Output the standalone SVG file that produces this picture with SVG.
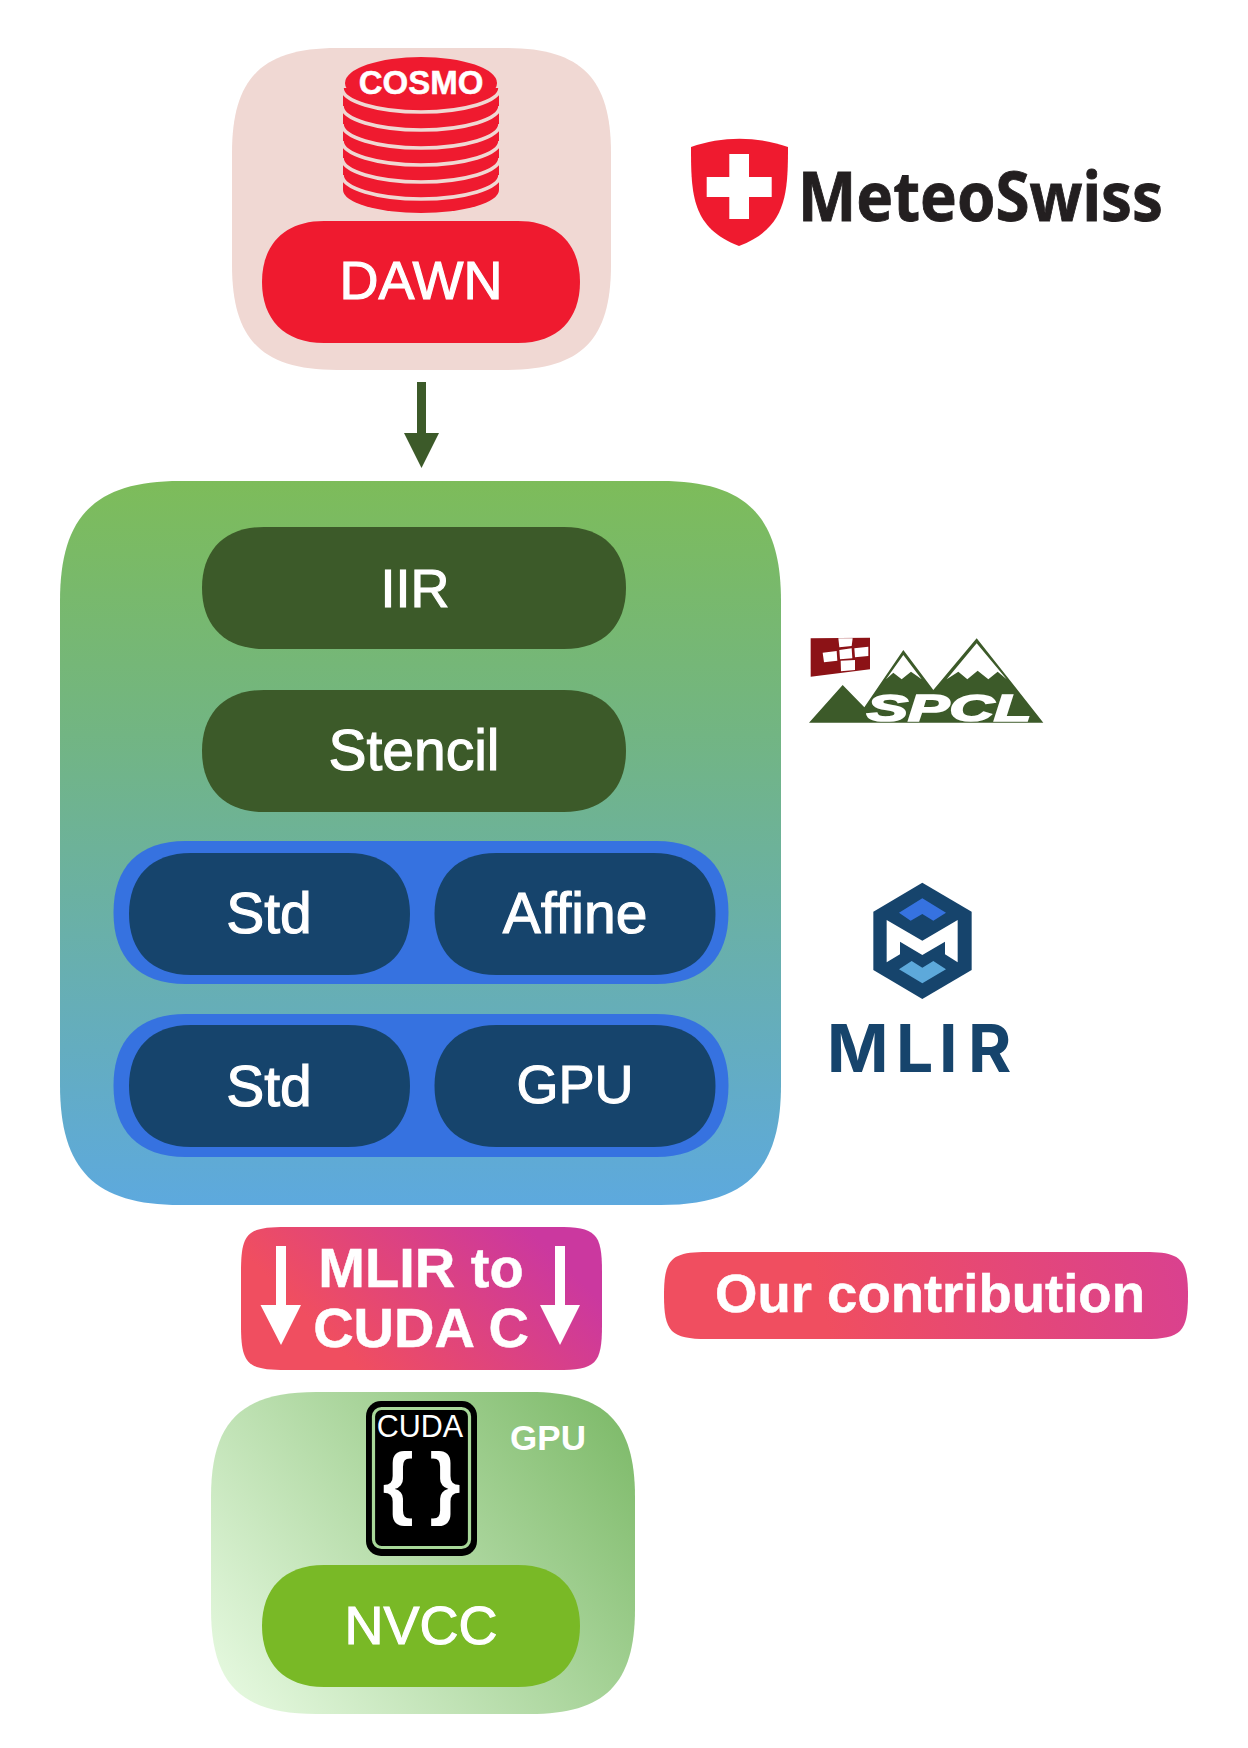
<svg xmlns="http://www.w3.org/2000/svg" width="1248" height="1748" viewBox="0 0 1248 1748">
<style>
text{font-family:"Liberation Sans",Arial,sans-serif;fill:#fff;text-anchor:middle}
.l{font-size:54px;stroke:#fff;stroke-width:1.1}
.m{font-size:57px;stroke:#fff;stroke-width:1.1}
.b{font-size:56px;font-weight:700;stroke:#fff;stroke-width:.5}
.red{fill:#ef1a2f}
.dg{fill:#3c5a29}
.navy{fill:#16446c}
.blue{fill:#3672e0}
.wa{fill:#fff}
.band{fill:none;stroke:#f0d8d3;stroke-width:3.6}
</style>
<defs>
<linearGradient id="gBig" x1="0" y1="0" x2="0" y2="1"><stop offset="0" stop-color="#7dbc5a"/><stop offset=".35" stop-color="#72b583"/><stop offset="1" stop-color="#5da9de"/></linearGradient>
<linearGradient id="gGpu" gradientUnits="userSpaceOnUse" x1="240" y1="1720" x2="625" y2="1420"><stop offset="0" stop-color="#e6f9e0"/><stop offset="1" stop-color="#7fbb6b"/></linearGradient>
<linearGradient id="gPink" gradientUnits="userSpaceOnUse" x1="380" y1="1390" x2="535" y2="1235"><stop offset="0" stop-color="#f04e60"/><stop offset="1" stop-color="#cb389f"/></linearGradient>
<linearGradient id="gOur" gradientUnits="userSpaceOnUse" x1="830" y1="1340" x2="1240" y2="1250"><stop offset="0" stop-color="#f04e60"/><stop offset="1" stop-color="#d63f96"/></linearGradient>
<path id="p318" d="M62,0H256C296,0 318,24 318,61C318,98 296,122 256,122H62C22,122 0,98 0,61C0,24 22,0 62,0Z"/>
<path id="p424" d="M62,0H362C402,0 424,24 424,61C424,98 402,122 362,122H62C22,122 0,98 0,61C0,24 22,0 62,0Z"/>
<path id="p281" d="M62,0H219C259,0 281,24 281,61C281,98 259,122 219,122H62C22,122 0,98 0,61C0,24 22,0 62,0Z"/>
<path id="p615" d="M72,0H543C590,0 615,26 615,71.500C615,117 590,143 543,143H72C25,143 0,117 0,71.500C0,26 25,0 72,0Z"/>
</defs>

<g id="dawn-group">
<path fill="#f0d8d3" d="M337,48H506C581,48 611,78 611,153V265C611,340 581,370 506,370H337C262,370 232,340 232,265V153C232,78 262,48 337,48Z"/>
<path class="red" d="M343,88V190A78 23 0 0 0 499,190V88Z"/>
<path class="band" d="M342,88A79 24 0 0 0 500,88"/>
<path class="band" d="M342,106A79 24 0 0 0 500,106"/>
<path class="band" d="M342,124A79 24 0 0 0 500,124"/>
<path class="band" d="M342,141A79 24 0 0 0 500,141"/>
<path class="band" d="M342,158A79 24 0 0 0 500,158"/>
<path class="band" d="M342,175A79 24 0 0 0 500,175"/>
<ellipse class="red" cx="421" cy="83" rx="76" ry="26"/>
<text x="421" y="94" font-size="33" font-weight="700" stroke="#fff" stroke-width=".5">COSMO</text>
</g>
<g id="dawn">
<use href="#p318" x="262" y="221" class="red"/>
<text x="421" y="299" class="l">DAWN</text>
</g>

<g id="meteoswiss-logo">
<path class="red" d="M691,147C722,136 757,136 788,147C788,195 786,228 739,246C692,228 691,195 691,147Z"/>
<path fill="#fff" d="M729.3,154H749V177H771.7V197H749V219H729.3V197H706.700V177H729.3Z"/>
<text x="798" y="221" font-size="69" font-weight="700" textLength="365" lengthAdjust="spacingAndGlyphs" stroke="#231f20" stroke-width=".9" style="font-family:'Noto Sans','Open Sans',sans-serif;fill:#231f20;text-anchor:start">MeteoSwiss</text>
</g>

<g id="mlir-stack">
<path fill="url(#gBig)" d="M180,481H661C746,481 781,516 781,601V1085C781,1170 746,1205 661,1205H180C95,1205 60,1170 60,1085V601C60,516 95,481 180,481Z"/>
</g>
<g id="iir">
<use href="#p424" x="202" y="527" class="dg"/>
<text x="415" y="607" class="l">IIR</text>
</g>
<g id="stencil">
<use href="#p424" x="202" y="690" class="dg"/>
<text x="414" y="770" class="m">Stencil</text>
</g>
<g id="row-std-affine">
<use href="#p615" x="113.500" y="841" class="blue"/>
</g>
<g id="std-1">
<use href="#p281" x="129" y="853" class="navy"/>
<text x="269" y="933" class="m">Std</text>
</g>
<g id="affine">
<use href="#p281" x="434.500" y="853" class="navy"/>
<text x="575" y="933" class="m">Affine</text>
</g>
<g id="row-std-gpu">
<use href="#p615" x="113.500" y="1014" class="blue"/>
</g>
<g id="std-2">
<use href="#p281" x="129" y="1025" class="navy"/>
<text x="269" y="1106" class="m">Std</text>
</g>
<g id="gpu-dialect">
<use href="#p281" x="434.500" y="1025" class="navy"/>
<text x="575" y="1103" class="l">GPU</text>
</g>

<g id="spcl-logo" transform="translate(805 630) scale(.33333)">
<path fill="#8c1216" d="M17,25L195,23V118L17,140Z"/>
<path fill="#fff" d="M53,68L95,63L97,92L57,97ZM103,60L140,55L142,85L105,88ZM148,55L190,50V78L150,82ZM100,25H143L140,48L103,52ZM107,92L150,90V120L108,124Z"/>
<path class="dg" d="M12,278L113,165L178,232L295,60L385,180L515,25L715,278Z"/>
<path fill="#fff" d="M295,75L243,148L265,128L290,148L318,125L350,148ZM515,40L425,148L460,125L487,148L518,122L550,148L578,125L605,148Z"/>
<text x="185" y="272" font-size="112" font-weight="700" font-style="italic" textLength="495" lengthAdjust="spacingAndGlyphs" stroke="#fff" stroke-width="5" style="text-anchor:start">SPCL</text>
</g>

<g id="mlir-logo">
<g transform="translate(790 620) scale(.33333)">
<path class="navy" d="M397,788L545,875V1050L397,1137L250,1050V875Z"/>
<path class="blue" d="M397,835L468,878L430,902L397,882L362,902L327,878Z"/>
<path fill="#5da9db" d="M327,1048L365,1023L397,1043L430,1023L468,1048L397,1090Z"/>
<path fill="#fff" d="M290,900L397,962L503,900V1027L465,1003V965L397,1005L330,965V1003L290,1027Z"/>
</g>
<text x="827 896 939 968" y="1072" font-size="66" font-weight="700" style="font-family:Inter,'Liberation Sans',sans-serif;fill:#16446c;text-anchor:start">MLIR</text>
</g>

<g id="mlir-to-cuda">
<path fill="url(#gPink)" d="M286,1227H557C596,1227 602,1233 602,1272V1325C602,1364 596,1370 557,1370H286C247,1370 241,1364 241,1325V1272C241,1233 247,1227 286,1227Z"/>
<path class="wa" d="M276,1246H286V1305H301L281,1345L260.500,1305H276Z"/>
<path class="wa" d="M555,1246H565V1305H580L560,1345L540,1305H555Z"/>
<text x="421" y="1287" class="b">MLIR to</text>
<text x="421" y="1347" class="b">CUDA C</text>
</g>

<g id="our-contribution">
<path fill="url(#gOur)" d="M707,1252H1145C1181,1252 1188,1259 1188,1295.500C1188,1332 1181,1339 1145,1339H707C671,1339 664,1332 664,1295.500C664,1259 671,1252 707,1252Z"/>
<text x="930" y="1312" class="b" style="font-size:54.500px">Our contribution</text>
</g>

<g id="gpu-group">
<path fill="url(#gGpu)" d="M316,1392H530C605,1392 635,1422 635,1497V1609C635,1684 605,1714 530,1714H316C241,1714 211,1684 211,1609V1497C211,1422 241,1392 316,1392Z"/>
<text x="548" y="1450" font-size="35" font-weight="700">GPU</text>
</g>
<g id="cuda">
<rect x="366" y="1401" width="111" height="155" rx="15"/>
<rect x="373.500" y="1408.500" width="96" height="139" rx="8" fill="none" stroke="#a8d899" stroke-width="3.200"/>
<text x="420" y="1437" font-size="30.500">CUDA</text>
<text x="398" y="1509" font-size="80" font-weight="700">{</text>
<text x="445" y="1509" font-size="80" font-weight="700">}</text>
</g>
<g id="nvcc">
<use href="#p318" x="262" y="1565" fill="#79b926"/>
<text x="421" y="1644" class="l">NVCC</text>
</g>

<g id="connectors">
<path class="dg" d="M417,382H426V433H439L421.500,468L404,433H417Z"/>
</g>
</svg>
